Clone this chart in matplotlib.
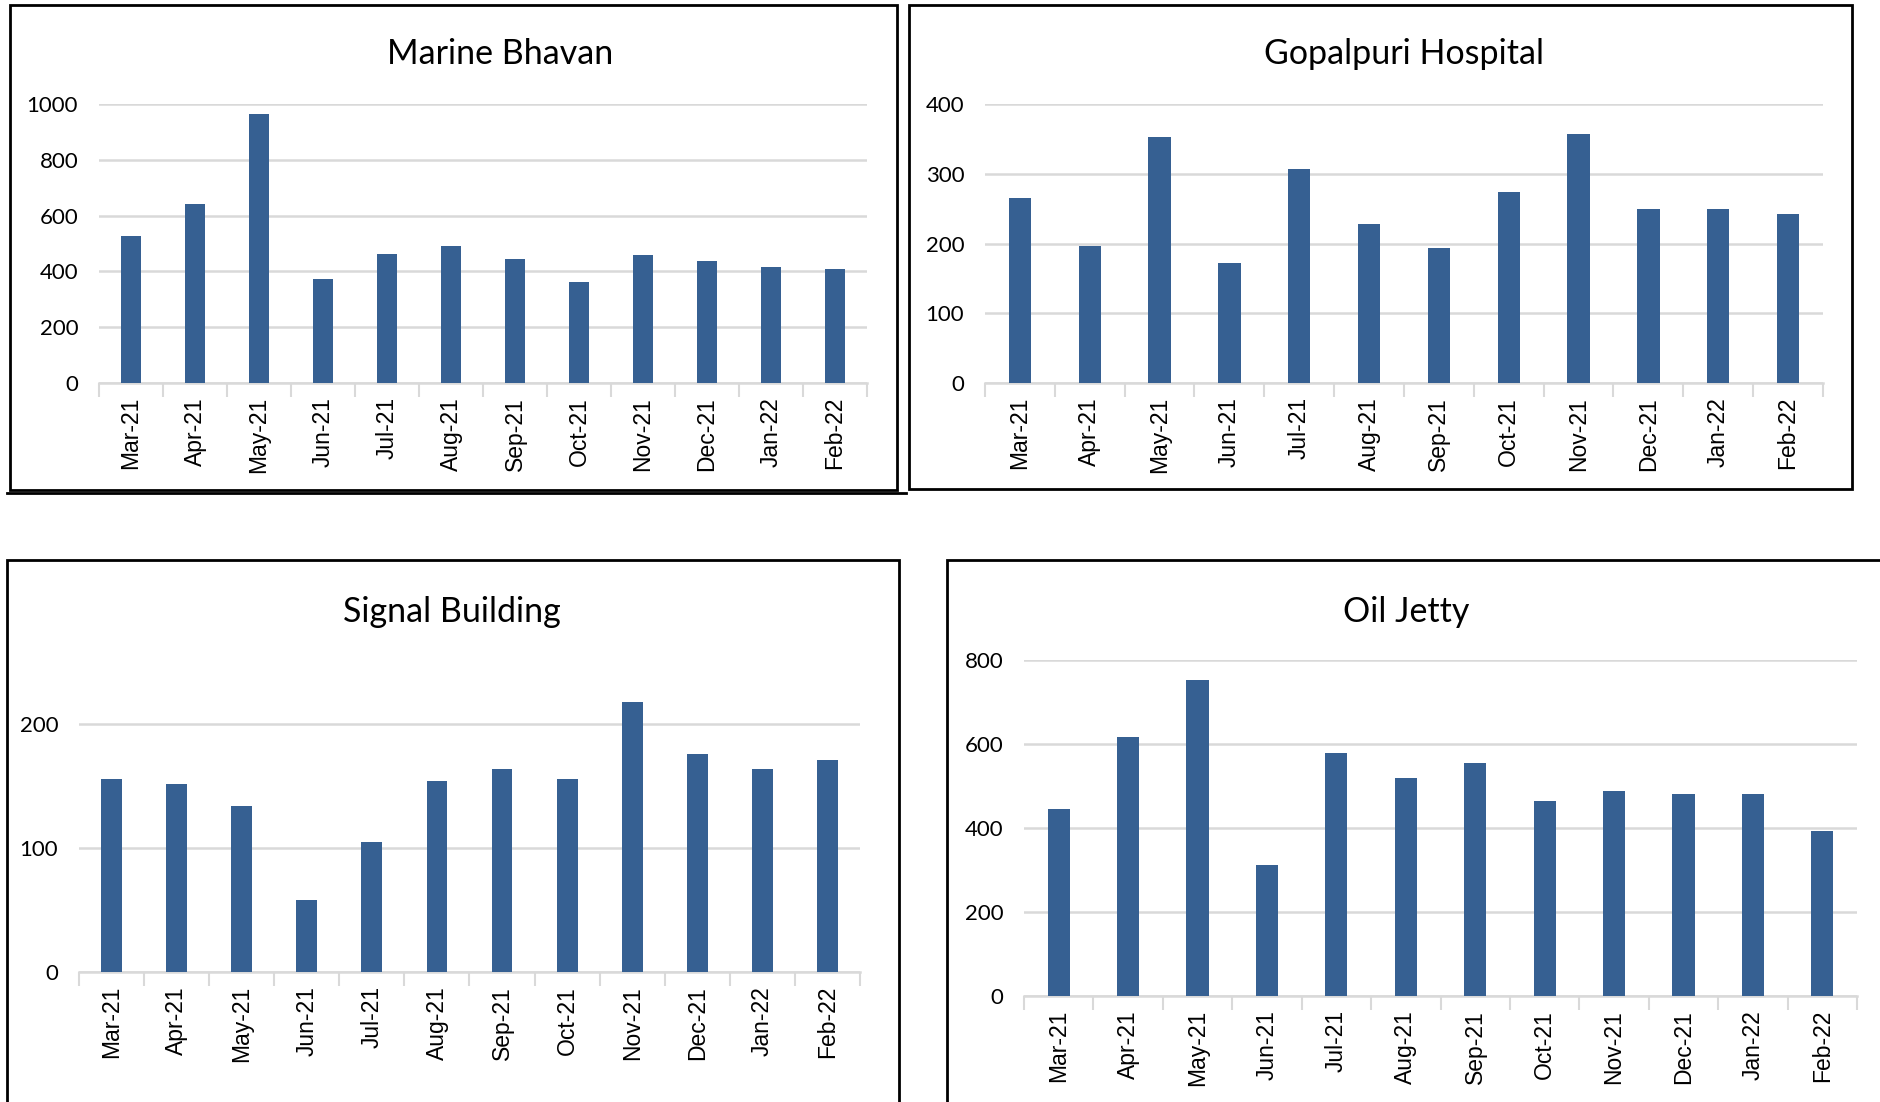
import matplotlib
matplotlib.use("Agg")
import matplotlib.pyplot as plt
from matplotlib.patches import Rectangle
from matplotlib.lines import Line2D

months = ["Mar-21", "Apr-21", "May-21", "Jun-21", "Jul-21", "Aug-21",
          "Sep-21", "Oct-21", "Nov-21", "Dec-21", "Jan-22", "Feb-22"]

marine_bhavan = [528, 640, 964, 372, 463, 492, 445, 363, 457, 439, 415, 409]
gopalpuri_hospital = [265, 197, 352, 172, 307, 228, 193, 274, 357, 250, 250, 242]
signal_building = [156, 152, 134, 58, 105, 154, 164, 156, 218, 176, 164, 171]
oil_jetty = [446, 616, 752, 312, 578, 520, 554, 464, 488, 480, 480, 393]

W, H = 1881, 1102
BAR = "#366092"
GRID = "#D9D9D9"

fig = plt.figure(figsize=(W / 100, H / 100), dpi=100)
fig.patch.set_facecolor("white")


def px_axes(left, right, y0, ytop):
    return fig.add_axes([left / W, 1 - y0 / H, (right - left) / W, (y0 - ytop) / H])


def panel(ax, values, ymax, ticks, title, tx, ty):
    x = list(range(len(months)))
    ax.bar(x, values, width=0.32, color=BAR, zorder=3)
    ax.set_xlim(-0.5, len(months) - 0.5)
    ax.set_ylim(0, ymax)
    ax.set_yticks(ticks)
    ax.set_yticklabels([str(t) for t in ticks], fontsize=16, family="Lato")
    ax.yaxis.grid(True, color=GRID, linewidth=1.8, zorder=0)
    ax.tick_params(axis="y", length=0, pad=15)
    ax.set_xticks(x)
    ax.set_xticklabels(months, rotation=90, fontsize=16.5, family="Liberation Sans",
                       ha="center", va="top")
    ax.set_xticks([i - 0.5 for i in range(len(months) + 1)], minor=True)
    ax.tick_params(axis="x", which="major", length=0, pad=10)
    ax.tick_params(axis="x", which="minor", length=10, width=1.5, color=GRID, direction="out")
    for s in ["top", "right", "left"]:
        ax.spines[s].set_visible(False)
    ax.spines["bottom"].set_color(GRID)
    ax.spines["bottom"].set_linewidth(1.8)
    ax.set_facecolor("none")
    fig.text(tx / W, 1 - ty / H, title, fontsize=24.5, family="Lato",
             ha="center", va="center")


def border(x0, y0, x1, y1, lw=2.0):
    fig.patches.append(Rectangle((x0 / W, 1 - y1 / H), (x1 - x0) / W, (y1 - y0) / H,
                                 transform=fig.transFigure, fill=False,
                                 edgecolor="black", linewidth=lw))


# panel borders
border(10, 5, 897, 490)
fig.lines.append(Line2D([7 / W, 906 / W], [1 - 493 / H, 1 - 493 / H],
                        transform=fig.transFigure, color="black", linewidth=2))
border(909, 5, 1852, 489)
border(7, 560, 899, 1110)
border(947, 560, 1890, 1110)

ax1 = px_axes(99, 867, 383, 104)
panel(ax1, marine_bhavan, 1000, [0, 200, 400, 600, 800, 1000], "Marine Bhavan", 500, 54)

ax2 = px_axes(985, 1823, 383, 104)
panel(ax2, gopalpuri_hospital, 400, [0, 100, 200, 300, 400], "Gopalpuri Hospital", 1404, 54)

ax3 = px_axes(79, 860, 972, 662)
panel(ax3, signal_building, 250, [0, 100, 200], "Signal Building", 452, 612)

ax4 = px_axes(1024, 1857, 996, 660)
panel(ax4, oil_jetty, 800, [0, 200, 400, 600, 800], "Oil Jetty", 1406, 612)

fig.savefig("out.png", dpi=100, facecolor="white")
